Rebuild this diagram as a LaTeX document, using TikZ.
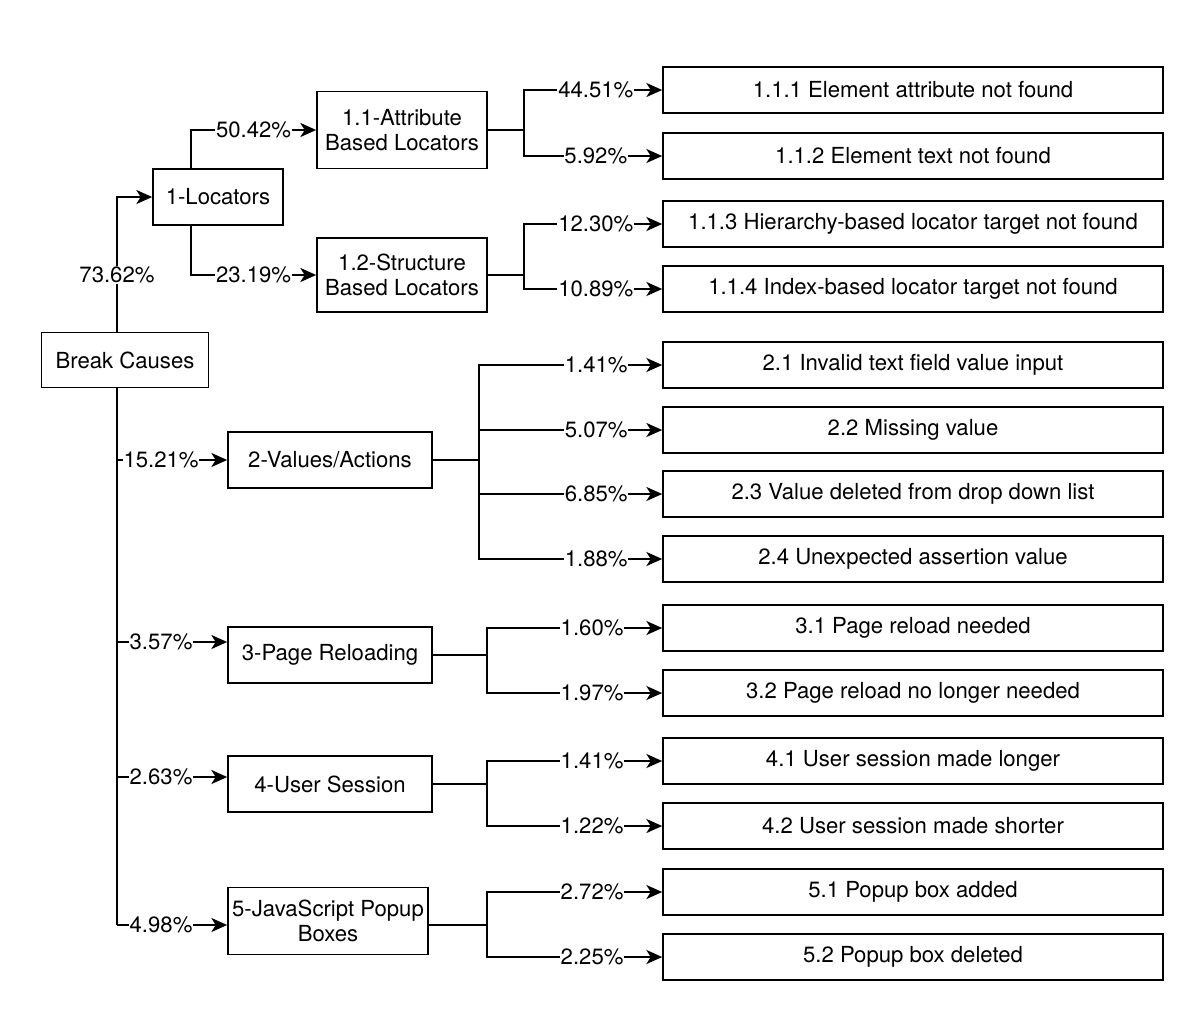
\documentclass[tikz,border=0pt]{standalone}
\usepackage{fontspec}
\setmainfont{TeX Gyre Heros}
\usetikzlibrary{arrows.meta}

\begin{document}
\begin{tikzpicture}[x=0.02cm,y=-0.02cm,line width=1pt,
        >={Stealth[length=9pt,width=8pt,inset=2.5pt]},
        every node/.style={font=\fontsize{12.6}{14.5}\selectfont},
        box/.style={draw=black,rectangle,align=center,inner sep=1pt},
        cause/.style={box,minimum width=4.08cm,minimum height=1.12cm},
        leaf/.style={box,minimum width=10cm,minimum height=0.92cm},
        pct/.style={fill=white,inner sep=0.5pt}]

    \useasboundingbox (0,0) rectangle (1200,1015);

    % main causes
    \node[box, minimum width=3.34cm, minimum height=1.1cm] (bc) at (125,360) {Break Causes};
    \node[box, minimum width=2.6cm, minimum height=1.12cm] (loc) at (218,197) {1-Locators};
    \node[box, minimum width=3.4cm, minimum height=1.54cm] (attr) at (402,130) {1.1-Attribute\\Based Locators};
    \node[box, minimum width=3.4cm, minimum height=1.48cm] (struct) at (402,275) {1.2-Structure\\Based Locators};
    \node[cause] (val) at (330,460) {2-Values/Actions};
    \node[cause] (reload) at (330,655) {3-Page Reloading};
    \node[cause] (session) at (330,784) {4-User Session};
    \node[box, minimum width=4cm, minimum height=1.34cm] (popup) at (328,921) {5-JavaScript Popup\\Boxes};

    % leaves
    \node[leaf] (l111) at (913,90) {1.1.1 Element attribute not found};
    \node[leaf] (l112) at (913,156) {1.1.2 Element text not found};
    \node[leaf] (l113) at (913,224) {1.1.3 Hierarchy-based locator target not found};
    \node[leaf] (l114) at (913,289) {1.1.4 Index-based locator target not found};
    \node[leaf] (l21) at (913,365) {2.1 Invalid text field value input};
    \node[leaf] (l22) at (913,430) {2.2 Missing value};
    \node[leaf] (l23) at (913,494) {2.3 Value deleted from drop down list};
    \node[leaf] (l24) at (913,559) {2.4 Unexpected assertion value};
    \node[leaf] (l31) at (913,628) {3.1 Page reload needed};
    \node[leaf] (l32) at (913,693) {3.2 Page reload no longer needed};
    \node[leaf] (l41) at (913,761) {4.1 User session made longer};
    \node[leaf] (l42) at (913,826) {4.2 User session made shorter};
    \node[leaf] (l51) at (913,892) {5.1 Popup box added};
    \node[leaf] (l52) at (913,957) {5.2 Popup box deleted};

    % split points
    \coordinate (tx) at (117,0);
    \coordinate (lx) at (191,0);
    \coordinate (s1) at (524,130);
    \coordinate (s2) at (524,275);
    \coordinate (sv) at (479,460);
    \coordinate (sr) at (487,655);
    \coordinate (ss) at (487,784);
    \coordinate (sp) at (487,925);
    \coordinate (t2) at (117,460);
    \coordinate (t3) at (117,642);
    \coordinate (t4) at (117,777);
    \coordinate (t5) at (117,925);

    % locators
    \draw[->] (bc.north -| tx) |- node[pct,pos=0.21] {73.62\%} (loc.west);
    \draw[->] (loc.north -| lx) |- node[pct,pos=0.75] {50.42\%} (attr.west);
    \draw[->] (loc.south -| lx) |- node[pct,pos=0.75] {23.19\%} (struct.west);
    \draw (attr.east) -- (s1);
    \draw[->] (s1) |- node[pct,pos=0.76] {44.51\%} (l111.west);
    \draw[->] (s1) |- node[pct,pos=0.76] {5.92\%} (l112.west);
    \draw (struct.east) -- (s2);
    \draw[->] (s2) |- node[pct,pos=0.76] {12.30\%} (l113.west);
    \draw[->] (s2) |- node[pct,pos=0.76] {10.89\%} (l114.west);

    % trunk
    \draw (bc.south -| tx) -- (t5);
    \draw[->] (t2) -- node[pct,pos=0.4] {15.21\%} (val.west |- t2);
    \draw[->] (t3) -- node[pct,pos=0.4] {3.57\%} (reload.west |- t3);
    \draw[->] (t4) -- node[pct,pos=0.4] {2.63\%} (session.west |- t4);
    \draw[->] (t5) -- node[pct,pos=0.4] {4.98\%} (popup.west |- t5);

    % values/actions
    \draw (val.east) -- (sv);
    \draw[->] (sv) |- node[pct,pos=0.82] {1.41\%} (l21.west);
    \draw[->] (sv) |- node[pct,pos=0.82] {5.07\%} (l22.west);
    \draw[->] (sv) |- node[pct,pos=0.82] {6.85\%} (l23.west);
    \draw[->] (sv) |- node[pct,pos=0.82] {1.88\%} (l24.west);

    % reloading, session, popups
    \draw (reload.east) -- (sr);
    \draw[->] (sr) |- node[pct,pos=0.8] {1.60\%} (l31.west);
    \draw[->] (sr) |- node[pct,pos=0.8] {1.97\%} (l32.west);
    \draw (session.east) -- (ss);
    \draw[->] (ss) |- node[pct,pos=0.8] {1.41\%} (l41.west);
    \draw[->] (ss) |- node[pct,pos=0.8] {1.22\%} (l42.west);
    \draw (popup.east |- sp) -- (sp);
    \draw[->] (sp) |- node[pct,pos=0.8] {2.72\%} (l51.west);
    \draw[->] (sp) |- node[pct,pos=0.8] {2.25\%} (l52.west);

\end{tikzpicture}
\end{document}
